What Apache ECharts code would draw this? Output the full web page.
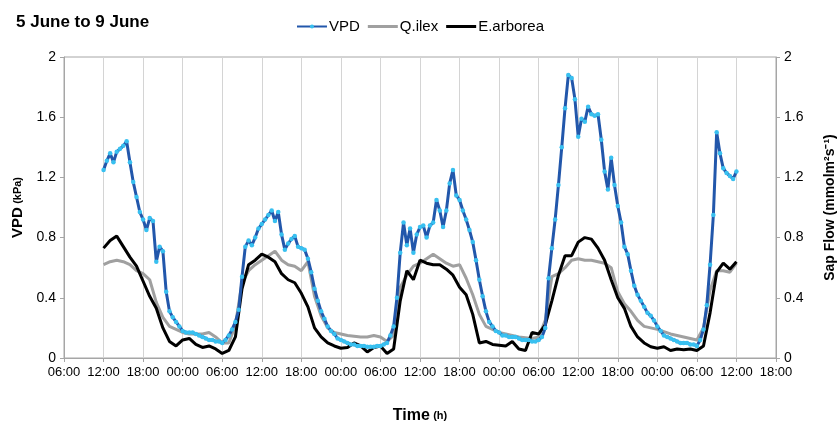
<!DOCTYPE html>
<html><head><meta charset="utf-8">
<script src="https://cdn.jsdelivr.net/npm/echarts@6/dist/echarts.min.js"></script>
<style>html,body{margin:0;padding:0;background:#fff}#c{width:840px;height:429px}</style>
</head><body><div id="c"></div>
<script>
const chartTitle = '5 June to 9 June';
const seriesNames = ['VPD', 'Q.ilex', 'E.arborea'];
const startHour = 12;      // 12:00 on 5 June (hours since 00:00, 5 June)
const vpdStep = 0.5;       // VPD sampled every 30 min
const sapStep = 1;         // sap flow sampled hourly
const xMin = 6, xMax = 114, xInterval = 6;
const yMin = 0, yMax = 2, yInterval = 0.4;

const vpd = [
1.25,1.31,1.36,1.30,1.37,1.39,1.41,1.44,1.30,1.17,
1.07,0.97,0.92,0.85,0.93,0.91,0.64,0.74,0.71,0.44,
0.31,0.27,0.24,0.21,0.18,0.17,0.17,0.17,0.16,0.15,
0.14,0.13,0.12,0.12,0.11,0.11,0.10,0.12,0.15,0.19,
0.24,0.32,0.54,0.74,0.78,0.75,0.80,0.86,0.89,0.92,
0.95,0.98,0.91,0.97,0.82,0.72,0.76,0.79,0.81,0.74,
0.73,0.72,0.66,0.57,0.46,0.38,0.31,0.26,0.21,0.18,
0.16,0.13,0.12,0.11,0.10,0.09,0.09,0.08,0.08,0.08,
0.075,0.075,0.075,0.08,0.08,0.09,0.10,0.15,0.21,0.40,
0.70,0.90,0.75,0.86,0.70,0.82,0.87,0.88,0.80,0.88,
0.90,1.05,0.98,0.87,0.98,1.16,1.25,1.08,1.05,0.98,
0.92,0.85,0.77,0.65,0.52,0.41,0.31,0.24,0.21,0.18,
0.17,0.15,0.15,0.14,0.14,0.14,0.13,0.12,0.12,0.12,
0.11,0.11,0.12,0.14,0.20,0.53,0.73,0.92,1.15,1.40,
1.66,1.88,1.86,1.72,1.47,1.59,1.57,1.67,1.62,1.61,
1.62,1.45,1.24,1.12,1.33,1.15,1.01,0.90,0.74,0.69,
0.58,0.48,0.42,0.38,0.34,0.30,0.28,0.25,0.21,0.18,
0.15,0.14,0.13,0.12,0.11,0.10,0.10,0.10,0.09,0.09,
0.08,0.12,0.19,0.35,0.62,0.95,1.50,1.36,1.26,1.23,
1.21,1.19,1.24
];

const qilex = [
0.62,0.64,0.65,0.64,0.62,0.58,0.56,0.52,0.37,0.27,
0.21,0.19,0.17,0.16,0.16,0.16,0.17,0.14,0.10,0.10,
0.22,0.50,0.58,0.62,0.65,0.68,0.71,0.65,0.62,0.61,
0.58,0.64,0.41,0.28,0.20,0.17,0.16,0.15,0.145,0.14,
0.14,0.15,0.14,0.11,0.15,0.47,0.55,0.61,0.63,0.66,
0.69,0.66,0.63,0.61,0.62,0.53,0.42,0.29,0.21,0.19,
0.17,0.16,0.15,0.14,0.135,0.13,0.14,0.25,0.54,0.56,
0.60,0.65,0.66,0.65,0.65,0.64,0.63,0.60,0.44,0.36,
0.31,0.25,0.21,0.20,0.19,0.175,0.16,0.15,0.14,0.13,
0.12,0.20,0.45,0.58,0.58,0.57,0.63
];

const earborea = [
0.73,0.78,0.81,0.74,0.67,0.61,0.51,0.41,0.33,0.20,
0.11,0.08,0.12,0.13,0.09,0.07,0.08,0.06,0.03,0.05,
0.14,0.46,0.62,0.65,0.69,0.67,0.64,0.56,0.52,0.50,
0.43,0.34,0.20,0.14,0.10,0.08,0.065,0.07,0.10,0.08,
0.04,0.07,0.08,0.03,0.06,0.38,0.58,0.52,0.65,0.63,
0.62,0.62,0.59,0.55,0.47,0.42,0.29,0.10,0.11,0.09,
0.085,0.08,0.11,0.06,0.05,0.17,0.16,0.22,0.38,0.55,
0.68,0.68,0.77,0.80,0.79,0.73,0.65,0.52,0.40,0.33,
0.21,0.14,0.10,0.075,0.065,0.075,0.05,0.06,0.055,0.06,
0.05,0.08,0.30,0.57,0.63,0.59,0.64
];

const toPairs = (arr, step) => arr.map((v, i) => [startHour + i * step, v]);
const fmtHour = v => String(((v % 24) + 24) % 24).padStart(2, '0') + ':00';
const FONT = "'Liberation Sans', Arial, sans-serif";
const axisColor = '#a6a6a6';
const barIcon = 'path://M0,0H30V3H0Z';

const chart = echarts.init(document.getElementById('c'), null, {renderer: 'canvas'});
chart.setOption({
  animation: false,
  backgroundColor: '#fff',
  textStyle: {fontFamily: FONT},
  title: {
    text: chartTitle, left: 11, top: 9,
    textStyle: {fontFamily: FONT, fontSize: 17, fontWeight: 'bold', color: '#000'}
  },
  legend: {
    data: [
      {name: seriesNames[0]},
      {name: seriesNames[1], icon: barIcon},
      {name: seriesNames[2], icon: barIcon}
    ],
    left: 'center', top: 14,
    itemWidth: 30, itemHeight: 5, itemGap: 8,
    textStyle: {fontFamily: FONT, fontSize: 15, color: '#000', padding: [0, 0, 0, -3]}
  },
  grid: {
    left: 64, right: 64, top: 57, bottom: 71,
    containLabel: false, outerBoundsMode: 'none',
    show: true, borderColor: axisColor, borderWidth: 1
  },
  xAxis: {
    type: 'value', min: xMin, max: xMax, interval: xInterval,
    name: '{a|Time} {b|(h)}', nameLocation: 'middle', nameGap: 50,
    nameTextStyle: {rich: {
      a: {fontFamily: FONT, fontSize: 16, fontWeight: 'bold', color: '#000'},
      b: {fontFamily: FONT, fontSize: 11, fontWeight: 'bold', color: '#000'}
    }},
    axisLine: {show: true, lineStyle: {color: axisColor}},
    axisTick: {show: true, length: 4, lineStyle: {color: axisColor}},
    axisLabel: {formatter: fmtHour, fontSize: 13, color: '#000', margin: 8, fontFamily: FONT},
    splitLine: {show: true, lineStyle: {color: '#d4d4d4', width: 1}}
  },
  yAxis: [{
    type: 'value', min: yMin, max: yMax, interval: yInterval, position: 'left',
    name: '{a|VPD} {b|(kPa)}', nameLocation: 'middle', nameGap: 37, nameRotate: 90,
    nameTextStyle: {rich: {
      a: {fontFamily: FONT, fontSize: 15, fontWeight: 'bold', color: '#000'},
      b: {fontFamily: FONT, fontSize: 11, fontWeight: 'bold', color: '#000'}
    }},
    axisLine: {show: true, lineStyle: {color: axisColor}},
    axisTick: {show: true, length: 4, lineStyle: {color: axisColor}},
    axisLabel: {fontSize: 14, color: '#000', margin: 8, fontFamily: FONT},
    splitLine: {show: false}
  }, {
    type: 'value', min: yMin, max: yMax, interval: yInterval, position: 'right',
    name: 'Sap Flow (mmolm²s⁻¹)', nameLocation: 'middle', nameGap: 47, nameRotate: 90,
    nameTextStyle: {fontFamily: FONT, fontSize: 14, fontWeight: 'bold', color: '#000'},
    axisLine: {show: true, lineStyle: {color: axisColor}},
    axisTick: {show: true, length: 4, lineStyle: {color: axisColor}},
    axisLabel: {fontSize: 14, color: '#000', margin: 8, fontFamily: FONT},
    splitLine: {show: false}
  }],
  series: [{
    name: seriesNames[0], type: 'line', yAxisIndex: 0, z: 4,
    data: toPairs(vpd, vpdStep),
    symbol: 'circle', symbolSize: 4.5, showSymbol: true, showAllSymbol: true,
    itemStyle: {color: '#38c0f0'},
    lineStyle: {color: '#2257ab', width: 3}
  }, {
    name: seriesNames[1], type: 'line', yAxisIndex: 1, z: 2,
    data: toPairs(qilex, sapStep), showSymbol: false, symbol: 'none',
    itemStyle: {color: '#a0a0a0'},
    lineStyle: {color: '#a0a0a0', width: 3}
  }, {
    name: seriesNames[2], type: 'line', yAxisIndex: 1, z: 3,
    data: toPairs(earborea, sapStep), showSymbol: false, symbol: 'none',
    itemStyle: {color: '#000'},
    lineStyle: {color: '#000', width: 3}
  }]
});
</script></body></html>
